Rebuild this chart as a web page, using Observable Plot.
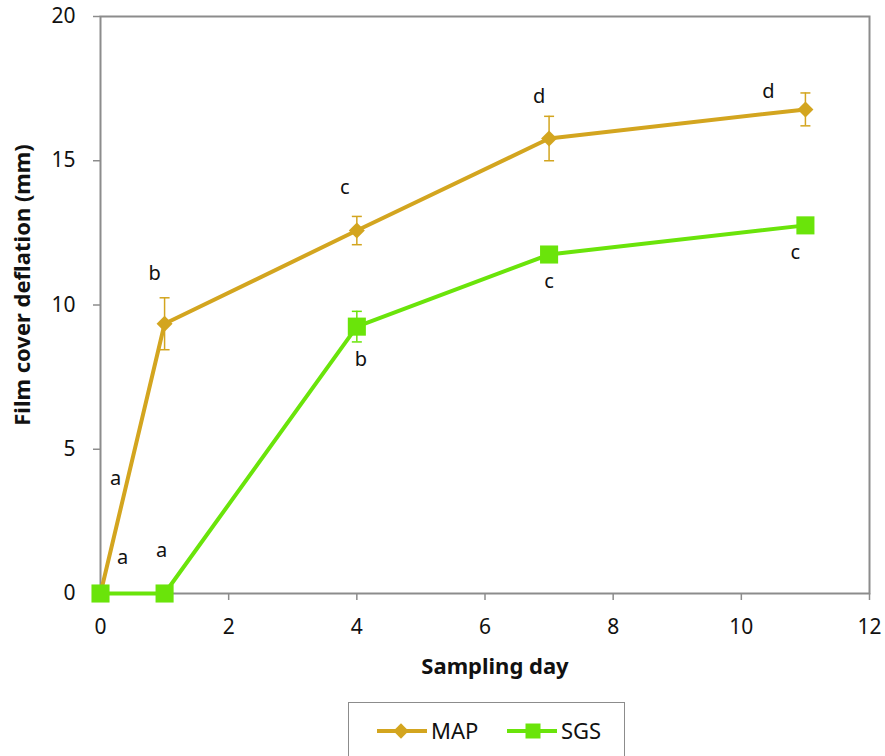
<!DOCTYPE html>
<html>
<head>
<meta charset="utf-8">
<script src="https://cdn.jsdelivr.net/npm/d3@7"></script>
<script src="https://cdn.jsdelivr.net/npm/@observablehq/plot@0.6"></script>
<style>
  body { margin: 0; background: #fff; font-family: "Noto Sans", "Open Sans", sans-serif; }
  #wrap { position: relative; width: 885px; height: 756px; overflow: hidden; }
  #chart { position: absolute; left: 0; top: 0; }
  #legend {
    position: absolute; left: 348px; top: 702px; width: 277px; height: 70px;
    border: 1.5px solid #8c8c8c; box-sizing: border-box; background: #fff;
  }
  #legend svg { position: absolute; left: 0; top: 0; }
</style>
</head>
<body>
<div id="wrap">
  <div id="chart"></div>
  <div id="legend"></div>
</div>
<script>
// Sampling days
const days = [0, 1, 4, 7, 11];

// Film cover deflation (mm), mean and error, per treatment
const mapMean = [0, 9.35, 12.58, 15.77, 16.78];
const mapErr  = [0, 0.90, 0.49, 0.77, 0.57];
const sgsMean = [0, 0, 9.25, 11.75, 12.76];
const sgsErr  = [0, 0, 0.53, 0, 0];

// Significance letters
const mapLetters = ["a", "b", "c", "d", "d"];
const sgsLetters = ["a", "a", "b", "c", "c"];

// Series names and axis ticks
const seriesNames = ["MAP", "SGS"];
const xTicks = [0, 2, 4, 6, 8, 10, 12];
const yTicks = [0, 5, 10, 15, 20];

const colors = { MAP: "#D3A51F", SGS: "#6AE40A" };
const axisGray = "#8c8c8c";

const rows = [];
days.forEach((d, i) => rows.push({series: "MAP", day: d, mean: mapMean[i], err: mapErr[i], letter: mapLetters[i]}));
days.forEach((d, i) => rows.push({series: "SGS", day: d, mean: sgsMean[i], err: sgsErr[i], letter: sgsLetters[i]}));
const mapRows = rows.filter(r => r.series === "MAP");
const sgsRows = rows.filter(r => r.series === "SGS");
const errRows = rows.filter(r => r.err > 0);

// Pixel nudges for each letter so it clears the line and error bar
const letterNudge = {
  MAP: [[15, -115], [-10, -50], [-12, -43], [-10, -42], [-37, -18]],
  SGS: [[22, -36], [-3, -43], [4, 33], [0, 27], [-10, 27]]
};

// Short horizontal cap drawn at each error-bar end
const capSymbol = {
  draw(context) { context.moveTo(-5, 0); context.lineTo(5, 0); }
};

const letterMarks = rows.map((r) => {
  const i = days.indexOf(r.day);
  const [dx, dy] = letterNudge[r.series][i];
  return Plot.text([r], {x: "day", y: "mean", text: "letter", dx, dy,
    fontSize: 20, fill: "#111", textAnchor: "middle", lineAnchor: "middle"});
});

const chart = Plot.plot({
  width: 885,
  height: 700,
  marginLeft: 100,
  marginRight: 16,
  marginTop: 16,
  marginBottom: 107,
  style: { fontFamily: "'Noto Sans', 'Open Sans', sans-serif", fontSize: "20px", color: "#111", background: "#fff" },
  x: { domain: [0, 12] },
  y: { domain: [0, 20] },
  marks: [
    Plot.frame({ stroke: axisGray, strokeWidth: 2 }),
    Plot.axisX({ ticks: xTicks, tickSize: 7, tickPadding: 19, stroke: axisGray, strokeWidth: 1.5, label: null, fontSize: 21 }),
    Plot.axisY({ ticks: yTicks, tickSize: 7, tickPadding: 18, stroke: axisGray, strokeWidth: 1.5, label: null, fontSize: 21 }),
    Plot.text(["Sampling day"], { frameAnchor: "bottom", dy: 80, dx: 10, fontWeight: "bold", fontSize: 22, fill: "#111" }),
    Plot.text(["Film cover deflation (mm)"], { frameAnchor: "left", textAnchor: "middle", dx: -78, dy: -20, rotate: -90, fontWeight: "bold", fontSize: 22, fill: "#111" }),
    Plot.line(mapRows, { x: "day", y: "mean", stroke: colors.MAP, strokeWidth: 4 }),
    Plot.line(sgsRows, { x: "day", y: "mean", stroke: colors.SGS, strokeWidth: 4 }),
    Plot.ruleX(errRows, { x: "day", y1: r => r.mean - r.err, y2: r => r.mean + r.err, stroke: r => colors[r.series], strokeWidth: 1.5 }),
    Plot.dot(errRows, { x: "day", y: r => r.mean + r.err, symbol: capSymbol, fill: "none", stroke: r => colors[r.series], strokeWidth: 1.5 }),
    Plot.dot(errRows, { x: "day", y: r => r.mean - r.err, symbol: capSymbol, fill: "none", stroke: r => colors[r.series], strokeWidth: 1.5 }),
    Plot.dot(mapRows, { x: "day", y: "mean", symbol: "diamond2", r: 7.2, fill: colors.MAP, stroke: "none" }),
    Plot.dot(sgsRows, { x: "day", y: "mean", symbol: "square", r: 10.2, fill: colors.SGS, stroke: "none" }),
    ...letterMarks
  ]
});
document.getElementById("chart").append(chart);

// Legend: line-with-marker swatches followed by series names
const legend = d3.select("#legend").append("svg").attr("width", 277).attr("height", 70);
const items = [
  { name: seriesNames[0], x0: 28, x1: 78, mx: 52, symbol: d3.symbolDiamond2, size: 150, text: 82 },
  { name: seriesNames[1], x0: 158, x1: 208, mx: 184, symbol: d3.symbolSquare, size: 225, text: 212 }
];
items.forEach(it => {
  const g = legend.append("g");
  g.append("line").attr("x1", it.x0).attr("x2", it.x1).attr("y1", 28).attr("y2", 28)
    .attr("stroke", colors[it.name]).attr("stroke-width", 4);
  g.append("path").attr("d", d3.symbol(it.symbol, it.size)()).attr("transform", `translate(${it.mx},28)`)
    .attr("fill", colors[it.name]);
  g.append("text").attr("x", it.text).attr("y", 28).attr("dy", "0.35em")
    .attr("font-size", 22).attr("fill", "#111").attr("font-family", "'Noto Sans', sans-serif").text(it.name);
});
</script>
</body>
</html>
